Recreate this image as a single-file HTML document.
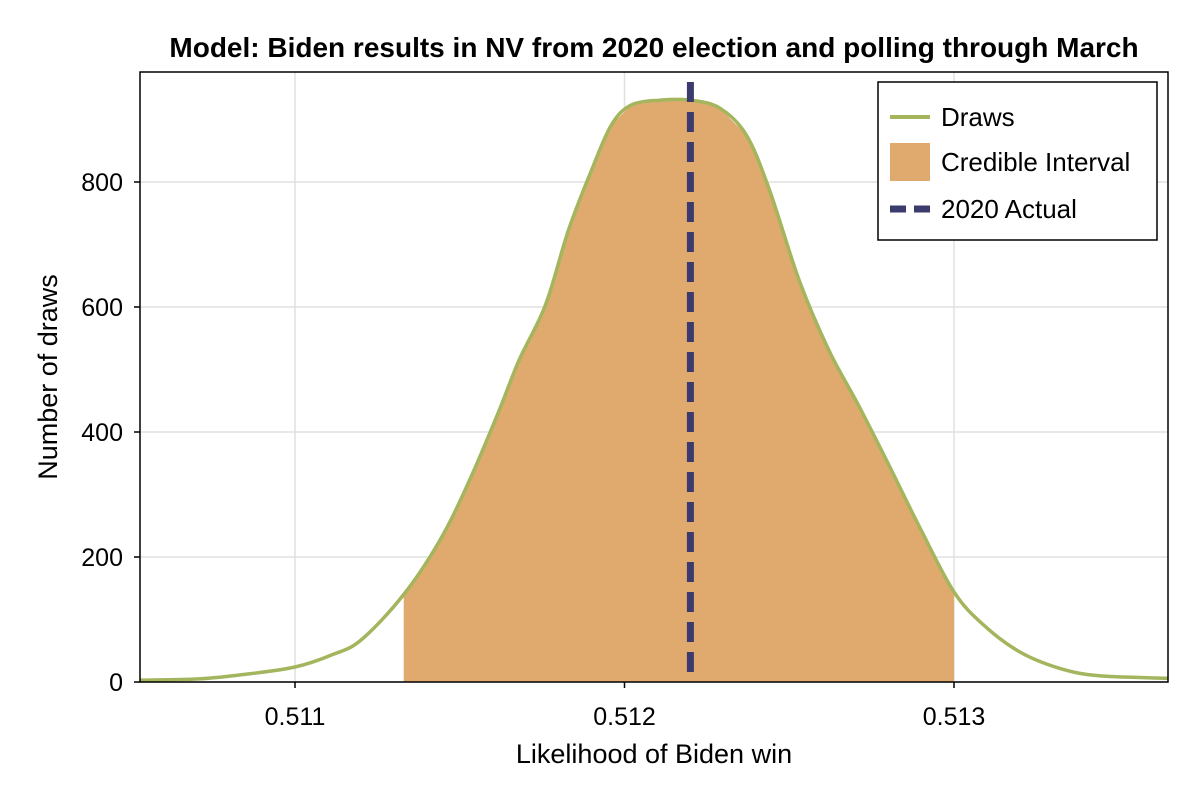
<!DOCTYPE html>
<html><head><meta charset="utf-8"><style>
html,body{margin:0;padding:0;background:#fff;}
svg{font-family:"Liberation Sans",Arial,sans-serif;}
</style></head><body>
<svg id="chart" width="1200" height="800" viewBox="0 0 1200 800">
<rect width="1200" height="800" fill="#fff"/>
<g id="grid"></g>
<g id="marks"></g>
<g id="axes"></g>
<text x="654" y="57" text-anchor="middle" font-size="28" font-weight="bold">Model: Biden results in NV from 2020 election and polling through March</text>
<text x="654" y="763" text-anchor="middle" font-size="27">Likelihood of Biden win</text>
<text transform="translate(57,377) rotate(-90)" text-anchor="middle" font-size="27">Number of draws</text>
<g>
<rect x="878" y="82" width="279" height="158" fill="#fff" stroke="#000" stroke-width="1.5"/>
<line x1="890" y1="117" x2="930" y2="117" stroke="#a3b55d" stroke-width="4"/>
<text x="941" y="126" font-size="26">Draws</text>
<rect x="890" y="143" width="40" height="38" fill="#e0a96e"/>
<text x="941" y="171" font-size="26">Credible Interval</text>
<line x1="890" y1="209" x2="930" y2="209" stroke="#3b3b6e" stroke-width="7" stroke-dasharray="16,8"/>
<text x="941" y="218" font-size="26">2020 Actual</text>
</g>
</svg>
<script>
const xs=[0.51053,0.51071,0.51086,0.51100,0.51111,0.51120,0.51133,0.51144,0.51153,0.51162,0.51168,0.51176,0.51183,0.51190,0.51196,0.51202,0.51211,0.51220,0.51229,0.51237,0.51244,0.51253,0.51262,0.51271,0.51281,0.51290,0.51300,0.51309,0.51320,0.51332,0.51344,0.51365];
const ys=[3,5,13,24,43,67,140,227,323,435,515,603,723,819,891,923,931,931,918,875,787,643,531,443,339,243,144,91,48,22,10,6];
const interval=[0.51133,0.51300];
const actual=[0.51220];
const xTicks=[0.511,0.512,0.513];
const yTicks=[0,200,400,600,800];
const L=140,R=1168,T=72,B=682;
function sx(v){return 295+(v-0.511)*329500;}
function sy(v){return B-v*0.625;}
const NS="http://www.w3.org/2000/svg";
function mk(tag,attrs,parent){const e=document.createElementNS(NS,tag);for(const k in attrs)e.setAttribute(k,attrs[k]);document.getElementById(parent).appendChild(e);return e;}
function interp(v){for(let i=0;i<xs.length-1;i++){if(v>=xs[i]&&v<=xs[i+1]){const t=(v-xs[i])/(xs[i+1]-xs[i]);return ys[i]+t*(ys[i+1]-ys[i]);}}return 0;}
xTicks.forEach(t=>{const g=mk('line',{x1:sx(t),x2:sx(t),y1:T,y2:B,stroke:'#e0e0e0','stroke-width':1.5},'grid');

});
yTicks.forEach(t=>{const g=mk('line',{x1:L,x2:R,y1:sy(t),y2:sy(t),stroke:'#e0e0e0','stroke-width':1.5},'grid');

});
let pts=[[interval[0],interp(interval[0])]];
xs.forEach((x,i)=>{if(x>interval[0]&&x<interval[1])pts.push([x,ys[i]]);});
pts.push([interval[1],interp(interval[1])]);
let d='M'+sx(interval[0])+','+B+' '+pts.map(p=>'L'+sx(p[0]).toFixed(1)+','+sy(p[1]).toFixed(1)).join(' ')+' L'+sx(interval[1])+','+B+'Z';
const area=mk('path',{d:d,fill:'#e0a96e'},'marks');


const P=xs.map((x,i)=>[sx(x),sy(ys[i])]);
let c='M'+P[0][0]+','+P[0][1];
for(let i=0;i<P.length-1;i++){const p0=P[Math.max(0,i-1)],p1=P[i],p2=P[i+1],p3=P[Math.min(P.length-1,i+2)];
c+=` C${(p1[0]+(p2[0]-p0[0])/6).toFixed(1)},${(p1[1]+(p2[1]-p0[1])/6).toFixed(1)} ${(p2[0]-(p3[0]-p1[0])/6).toFixed(1)},${(p2[1]-(p3[1]-p1[1])/6).toFixed(1)} ${p2[0].toFixed(1)},${p2[1].toFixed(1)}`;}
const line=mk('path',{d:c,fill:'none',stroke:'#a3b55d','stroke-width':3.5},'marks');


actual.forEach(a=>{const l=mk('line',{x1:sx(a),x2:sx(a),y1:82,y2:B,stroke:'#3b3b6e','stroke-width':7,'stroke-dasharray':'20,10'},'marks');

});
const fr=mk('rect',{x:L,y:T,width:R-L,height:B-T,fill:'none',stroke:'#000','stroke-width':1.5},'axes');


xTicks.forEach(t=>{const tk=mk('line',{x1:sx(t),x2:sx(t),y1:B,y2:B+6,stroke:'#000','stroke-width':1.5},'axes');


const tx=mk('text',{x:sx(t),y:B+43,'text-anchor':'middle','font-size':25},'axes');tx.textContent=t.toFixed(3);

});
yTicks.forEach(t=>{const tk=mk('line',{x1:L-6,x2:L,y1:sy(t),y2:sy(t),stroke:'#000','stroke-width':1.5},'axes');


const tx=mk('text',{x:L-17,y:sy(t)+9,'text-anchor':'end','font-size':25},'axes');tx.textContent=t;

});
</script>
</body></html>
